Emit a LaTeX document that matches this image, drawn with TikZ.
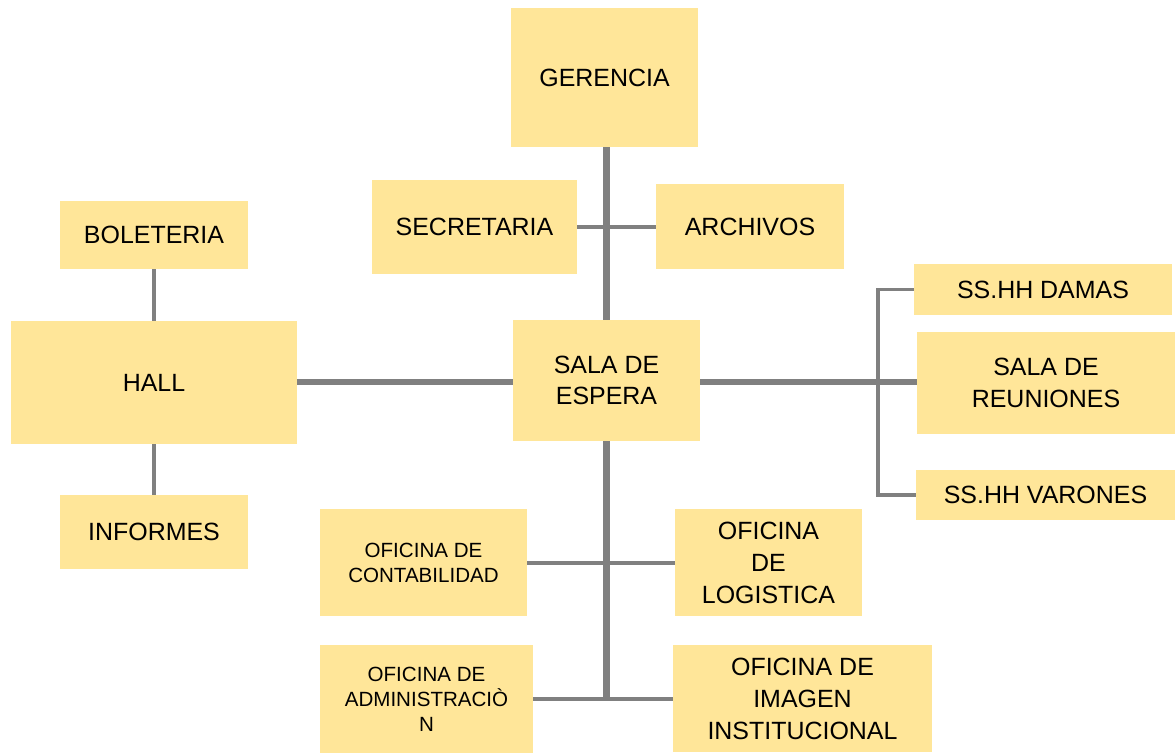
\documentclass[tikz,border=0pt]{standalone}
\usepackage{fontspec}
\setmainfont{Liberation Sans}
\usepackage{tikz}
\definecolor{roomfill}{HTML}{FFE699}
\definecolor{linkgray}{HTML}{808080}
\def\MainLink{3.9pt}
\def\SideLink{2.3pt}
\def\ThinLink{1.8pt}

\begin{document}
\begin{tikzpicture}[x=1cm,y=1cm,
    room/.style={fill=roomfill, inner sep=0pt, align=center,
        font=\fontsize{14.2}{18}\selectfont},
    smallroom/.style={room, font=\fontsize{11.7}{14.2}\selectfont},
    mainlink/.style={draw=linkgray, line width=\MainLink},
    sidelink/.style={draw=linkgray, line width=\SideLink},
    thinlink/.style={draw=linkgray, line width=\ThinLink}]

% Page background
\fill[white] (0,0) rectangle (23.5,15.08);
\useasboundingbox (0,0) rectangle (23.5,15.08);

% =====================================================
% TOP BRANCH
% =====================================================
\node[room, minimum width=3.74cm, minimum height=2.78cm] (gerencia) at (12.09,13.53) {GERENCIA};
\node[room, minimum width=4.10cm, minimum height=1.88cm] (secretaria) at (9.49,10.54) {SECRETARIA};
\node[room, minimum width=3.76cm, minimum height=1.70cm] (archivos) at (15.00,10.54) {ARCHIVOS};

% =====================================================
% CENTRE
% =====================================================
\node[room, minimum width=3.74cm, minimum height=2.42cm] (sala) at (12.13,7.47) {SALA DE\\ESPERA};

% =====================================================
% LEFT BRANCH
% =====================================================
\node[room, minimum width=3.76cm, minimum height=1.36cm] (boleteria) at (3.08,10.38) {BOLETERIA};
\node[room, minimum width=5.72cm, minimum height=2.46cm] (hall) at (3.08,7.43) {HALL};
\node[room, minimum width=3.76cm, minimum height=1.48cm] (informes) at (3.08,4.44) {INFORMES};

% =====================================================
% RIGHT BRANCH
% =====================================================
\node[room, minimum width=5.16cm, minimum height=1.02cm] (damas) at (20.86,9.29) {SS.HH DAMAS};
\node[room, minimum width=5.16cm, minimum height=2.04cm] (reuniones) at (20.92,7.42) {SALA DE\\REUNIONES};
\node[room, minimum width=5.18cm, minimum height=1.00cm] (varones) at (20.91,5.18) {SS.HH VARONES};

% =====================================================
% BOTTOM BRANCH
% =====================================================
\node[smallroom, minimum width=4.14cm, minimum height=2.14cm] (contabilidad) at (8.47,3.82) {OFICINA DE\\CONTABILIDAD};
\node[room, minimum width=3.74cm, minimum height=2.14cm] (logistica) at (15.37,3.82) {OFICINA\\DE\\LOGISTICA};
\node[smallroom, minimum width=4.26cm, minimum height=2.16cm] (administracion) at (8.53,1.10) {OFICINA DE\\ADMINISTRACIÒ\\N};
\node[room, minimum width=5.18cm, minimum height=2.14cm] (imagen) at (16.05,1.10) {OFICINA DE\\IMAGEN\\INSTITUCIONAL};

% =====================================================
% CONNECTORS
% =====================================================
\coordinate (rightbus) at (17.56,7.44);

% spine
\draw[mainlink] (sala.north |- gerencia.south) -- (sala.north);
\draw[mainlink] (sala.south) -- (sala.south |- administracion.east);
\draw[thinlink] (secretaria.east) -- (archivos.west);
\draw[thinlink] (contabilidad.east) -- (logistica.west);
\draw[thinlink] (administracion.east) -- (imagen.west);

% left side
\draw[mainlink] (hall.east |- rightbus) -- (sala.west |- rightbus);
\draw[sidelink] (boleteria.south) -- (hall.north);
\draw[sidelink] (hall.south) -- (informes.north);

% right side
\draw[mainlink] (sala.east |- rightbus) -- (reuniones.west |- rightbus);
\draw[thinlink] (damas.west) -- (damas.west -| rightbus) -- (varones.west -| rightbus) -- (varones.west);

\end{tikzpicture}
\end{document}
